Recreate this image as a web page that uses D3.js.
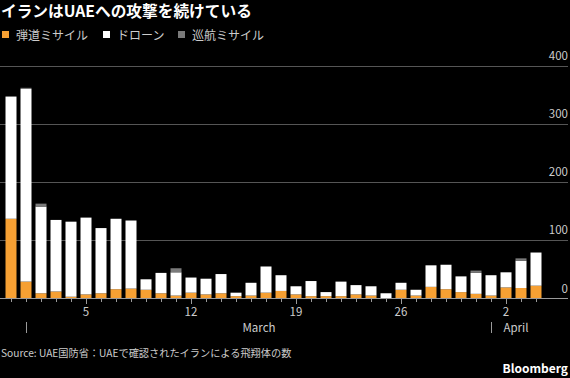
<!DOCTYPE html>
<html><head><meta charset="utf-8">
<script src="https://cdn.jsdelivr.net/npm/d3@7"></script>
<style>
html,body{margin:0;padding:0;background:#000;}
svg{display:block;}
text{font-family:"Noto Sans CJK JP","Noto Sans",sans-serif;}
</style></head>
<body>
<svg id="chart" width="570" height="378"></svg>
<script>
const dates = ["2/28","3/1","3/2","3/3","3/4","3/5","3/6","3/7","3/8","3/9","3/10","3/11","3/12","3/13","3/14","3/15","3/16","3/17","3/18","3/19","3/20","3/21","3/22","3/23","3/24","3/25","3/26","3/27","3/28","3/29","3/30","3/31","4/1","4/2","4/3","4/4"];
const ballistic = [137,29,9,12,3,7,9,16,17,15,9,5,10,7,9,4,5,10,13,7,4,4,4,7,5,0,15,5,20,16,11,8,5,19,18,22];
const drones    = [210,331,149,123,129,132,112,121,117,18,35,40,26,27,33,6,22,45,27,14,26,7,25,16,16,9,12,10,37,42,27,36,35,26,47,57];
const cruise    = [0,2,5,0,0,0,0,0,0,0,0,7,0,0,0,0,0,0,0,0,0,0,0,0,0,0,0,0,0,0,0,4,0,0,4,0];
const seriesNames = ["弾道ミサイル","ドローン","巡航ミサイル"];
const seriesColors = ["#f6a033","#ffffff","#7a7a7a"];
const yTicks = [0,100,200,300,400];
const dayTicks = ["3/5","3/12","3/19","3/26","4/2"];
const dayTickLabels = ["5","12","19","26","2"];
const monthStarts = ["3/1","4/1"];
const monthLabels = ["March","April"];
const title = "イランはUAEへの攻撃を続けている";
const source = "Source: UAE国防省：UAEで確認されたイランによる飛翔体の数";

const svg = d3.select("#chart");
const x = d3.scaleBand().domain(dates).range([1.5,545.5]).padding(0.267);
const y = d3.scaleLinear().domain([0,400]).range([298.5,65.7]);

// title
svg.append("text").attr("x",1).attr("y",16.5).attr("fill","#fff")
  .attr("font-size",15.7).attr("font-weight","bold").text(title);

// legend
const legX = [2,103,178];
seriesNames.forEach((n,i)=>{
  svg.append("rect").attr("x",legX[i]).attr("y",31).attr("width",7).attr("height",7).attr("fill",seriesColors[i]);
  svg.append("text").attr("x",legX[i]+14).attr("y",39.5).attr("fill","#cccccc").attr("font-size",12).text(n);
});

// gridlines
svg.append("g").selectAll("line").data(yTicks.filter(d=>d>0)).join("line")
  .attr("x1",0).attr("x2",568).attr("y1",d=>Math.round(y(d))+0.5).attr("y2",d=>Math.round(y(d))+0.5)
  .attr("stroke","#555").attr("stroke-width",1);
svg.append("g").selectAll("text").data(yTicks).join("text")
  .attr("x",568).attr("y",d=>y(d)-6).attr("text-anchor","end").attr("fill","#cccccc")
  .attr("font-size",11.5).attr("font-family","'Noto Sans',sans-serif").text(d=>d);

// stacked bars
const rows = dates.map((d,i)=>({date:d,b:ballistic[i],dr:drones[i],c:cruise[i]}));
const stack = d3.stack().keys(["b","dr","c"])(rows);
svg.append("g").selectAll("g").data(stack).join("g").attr("fill",(d,i)=>seriesColors[i])
  .selectAll("rect").data(d=>d.filter(s=>s[1]>s[0])).join("rect")
  .attr("x",d=>x(d.data.date)).attr("width",x.bandwidth())
  .attr("y",d=>y(d[1])).attr("height",d=>y(d[0])-y(d[1]));

// baseline
svg.append("line").attr("x1",0).attr("x2",568).attr("y1",298.5).attr("y2",298.5)
  .attr("stroke","#9a9a9a").attr("stroke-width",1);

// small ticks
const cx = d=>Math.round(x(d)+x.bandwidth()/2)+0.5;
svg.append("g").selectAll("line").data(dates).join("line")
  .attr("x1",cx).attr("x2",cx).attr("y1",299).attr("y2",d=>dayTicks.includes(d)?304:302)
  .attr("stroke","#9a9a9a");
svg.append("g").selectAll("text").data(dayTicks).join("text")
  .attr("x",d=>x(d)+x.bandwidth()/2).attr("y",316).attr("text-anchor","middle")
  .attr("fill","#cccccc").attr("font-size",11.5).attr("font-family","'Noto Sans',sans-serif")
  .text((d,i)=>dayTickLabels[i]);

// month markers
const endX = x.range()[1]-5;
monthStarts.forEach((m,i)=>{
  const mx = cx(m);
  svg.append("line").attr("x1",mx).attr("x2",mx).attr("y1",322).attr("y2",333).attr("stroke","#9a9a9a");
  const nx = i+1<monthStarts.length ? cx(monthStarts[i+1]) : endX;
  svg.append("text").attr("x",(mx+nx)/2).attr("y",331.8).attr("text-anchor","middle")
    .attr("fill","#cccccc").attr("font-size",11.5).attr("font-family","'Noto Sans',sans-serif")
    .text(monthLabels[i]);
});

// source
svg.append("text").attr("x",1).attr("y",357).attr("fill","#cccccc").attr("font-size",10.2).text(source);
svg.append("text").attr("x",568).attr("y",372.5).attr("text-anchor","end").attr("fill","#fff")
  .attr("font-size",12).attr("font-weight","bold").attr("font-family","'Noto Sans',sans-serif").text("Bloomberg");
</script>
</body></html>
